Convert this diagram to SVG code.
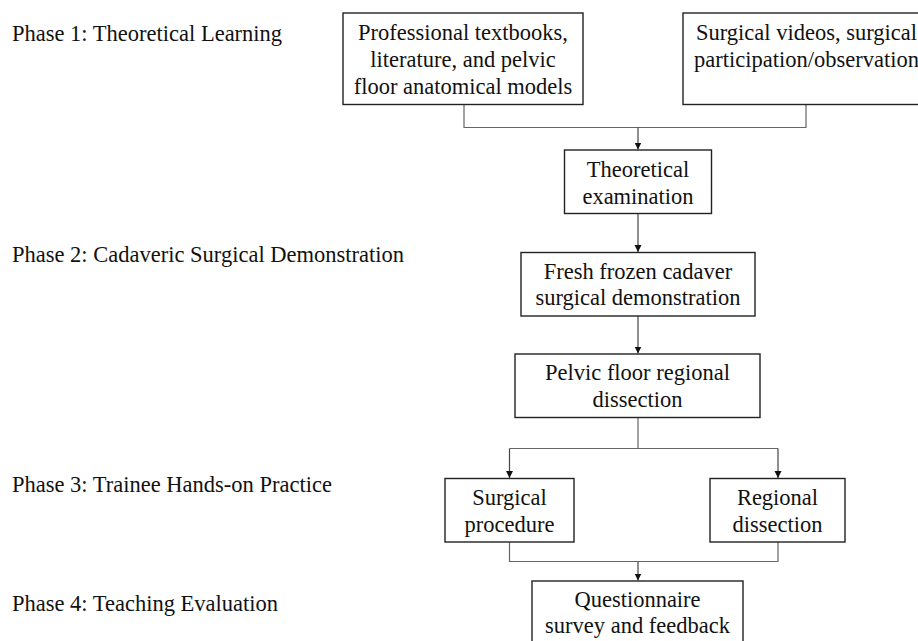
<svg xmlns="http://www.w3.org/2000/svg" width="918" height="641" viewBox="0 0 918 641">
<defs>
<marker id="arr" viewBox="0 0 7 8" refX="7" refY="4" markerWidth="7" markerHeight="8" markerUnits="userSpaceOnUse" orient="auto">
<path d="M0,0.5 L7,4 L0,7.5 z" fill="#111"/>
</marker>
<style>
text{font-family:"Liberation Serif","Times New Roman",serif;font-size:22.5px;fill:#111}
.c{text-anchor:middle}
.box{fill:#fff;stroke:#222;stroke-width:1.4}
.ln{fill:none;stroke:#666;stroke-width:1.2}
.ar{fill:none;stroke:#444;stroke-width:1.2;marker-end:url(#arr)}
</style>
</defs>
<rect width="918" height="641" fill="#fff"/>
<g id="phases">
<text x="12" y="40.5">Phase 1: Theoretical Learning</text>
<text x="12" y="261.5">Phase 2: Cadaveric Surgical Demonstration</text>
<text x="12" y="491.5">Phase 3: Trainee Hands-on Practice</text>
<text x="12" y="611">Phase 4: Teaching Evaluation</text>
</g>
<g id="connectors">
<path class="ln" d="M464,104.5 V127.5 H806 V104.5"/>
<path class="ar" d="M638,127.5 V149.5"/>
<path class="ar" d="M638,213.5 V252"/>
<path class="ar" d="M638,316 V353.5"/>
<path class="ln" d="M638,417.5 V448.5 M509.5,448.5 H778"/>
<path class="ar" d="M509.5,448.5 V478"/>
<path class="ar" d="M778,448.5 V478"/>
<path class="ln" d="M509.5,542 V561.5 H778 V542"/>
<path class="ar" d="M638,561.5 V580.5"/>
</g>
<g id="n1">
<rect class="box" x="343" y="13" width="240" height="91.5"/>
<text class="c" x="463" y="39.5">Professional textbooks,</text>
<text class="c" x="463" y="66.5">literature, and pelvic</text>
<text class="c" x="463" y="93.5">floor anatomical models</text>
</g>
<g id="n2">
<rect class="box" x="683" y="13" width="246" height="91.5"/>
<text class="c" x="806.5" y="39.5">Surgical videos, surgical</text>
<text class="c" x="806.5" y="66.5">participation/observation</text>
</g>
<g id="n3">
<rect class="box" x="564.5" y="150" width="147" height="63.5"/>
<text class="c" x="638" y="176.5">Theoretical</text>
<text class="c" x="638" y="203.5">examination</text>
</g>
<g id="n4">
<rect class="box" x="521" y="252.5" width="234" height="63.5"/>
<text class="c" x="638" y="278.5">Fresh frozen cadaver</text>
<text class="c" x="638" y="305">surgical demonstration</text>
</g>
<g id="n5">
<rect class="box" x="515" y="354" width="245" height="63.5"/>
<text class="c" x="637.5" y="380">Pelvic floor regional</text>
<text class="c" x="637.5" y="406.5">dissection</text>
</g>
<g id="n6">
<rect class="box" x="445" y="478.5" width="129" height="63.5"/>
<text class="c" x="509.5" y="505">Surgical</text>
<text class="c" x="509.5" y="531.5">procedure</text>
</g>
<g id="n7">
<rect class="box" x="710" y="478.5" width="135" height="63.5"/>
<text class="c" x="777.5" y="505">Regional</text>
<text class="c" x="777.5" y="531.5">dissection</text>
</g>
<g id="n8">
<rect class="box" x="532" y="581" width="211" height="70"/>
<text class="c" x="637.5" y="606.5">Questionnaire</text>
<text class="c" x="637.5" y="633">survey and feedback</text>
</g>
</svg>
